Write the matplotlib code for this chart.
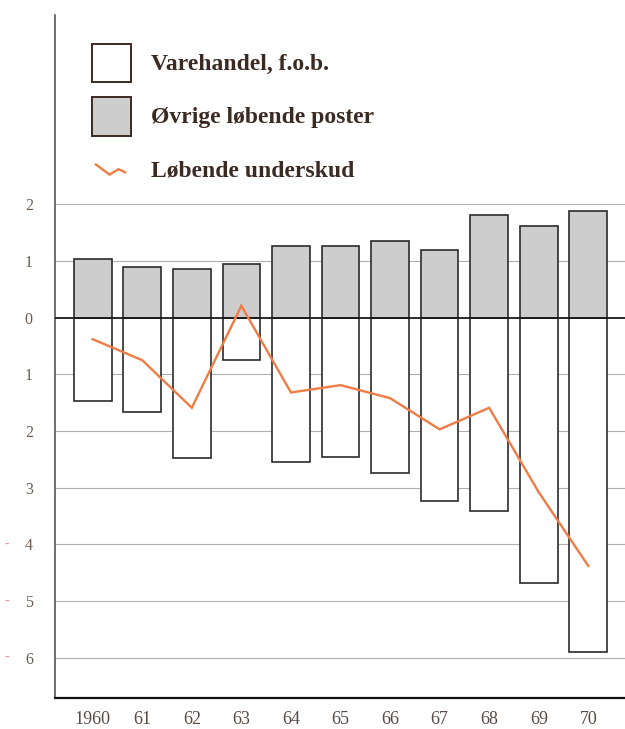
import matplotlib
matplotlib.use("Agg")
import matplotlib.pyplot as plt
from matplotlib.patches import Patch
from matplotlib.lines import Line2D
from matplotlib.legend_handler import HandlerLine2D
import matplotlib.transforms as mtransforms
import numpy as np

# ---- data (billion kr.) ----
years = [1960, 1961, 1962, 1963, 1964, 1965, 1966, 1967, 1968, 1969, 1970]
year_labels = ["1960", "61", "62", "63", "64", "65", "66", "67", "68", "69", "70"]
varehandel = [-1.47, -1.67, -2.47, -0.75, -2.54, -2.46, -2.74, -3.23, -3.41, -4.68, -5.90]
ovrige = [1.04, 0.90, 0.86, 0.94, 1.26, 1.27, 1.35, 1.20, 1.82, 1.61, 1.88]
underskud = [-0.38, -0.75, -1.59, 0.21, -1.32, -1.19, -1.42, -1.97, -1.59, -3.08, -4.38]
ytick_vals = [2, 1, 0, -1, -2, -3, -4, -5, -6]
ytick_labels = ["2", "1", "0", "1", "2", "3", "4", "5", "6"]
legend_labels = ["Varehandel, f.o.b.", "Øvrige løbende poster", "Løbende underskud"]

gray_fill = "#cdcdcd"
edge = "#2b2b2b"
orange = "#f07c45"
text_dark = "#3b2a22"
tick_col = "#6a5c55"

fig = plt.figure(figsize=(6.25, 7.29), dpi=100)
ax = fig.add_axes([55 / 625, 1 - 698 / 729, 1 - 55 / 625, 683 / 729])

x = np.array(years)
w = 0.76
ax.bar(x, varehandel, width=w, color="white", edgecolor=edge, linewidth=1.2, zorder=3)
ax.bar(x, ovrige, width=w, color=gray_fill, edgecolor=edge, linewidth=1.2, zorder=3)
ax.plot(x, underskud, color=orange, linewidth=1.7, zorder=5, solid_joinstyle="miter")

# grid lines
for v in ytick_vals:
    if v == 0:
        ax.axhline(0, color="#1a1a1a", linewidth=1.3, zorder=4)
    else:
        ax.axhline(v, color="#b0b0b0", linewidth=0.8, zorder=1)

ax.set_xlim(1959.24, 1970.74)
ax.set_ylim(-6.71, 5.34)

ax.set_yticks(ytick_vals)
ax.set_yticklabels(ytick_labels, fontfamily="Liberation Serif", fontsize=11.5, color=tick_col)
ax.set_xticks(years)
ax.set_xticklabels(year_labels, fontfamily="Liberation Serif", fontsize=13, color="#574a44")
ax.tick_params(axis="y", length=0, pad=16)
ax.tick_params(axis="x", length=0, pad=9)

for s in ["top", "right"]:
    ax.spines[s].set_visible(False)
ax.spines["left"].set_color("#555555")
ax.spines["left"].set_linewidth(1.2)
ax.spines["bottom"].set_color("#111111")
ax.spines["bottom"].set_linewidth(1.6)

# faint minus marks before lower labels
trans = mtransforms.blended_transform_factory(ax.transAxes, ax.transData)
for v in [-4, -5, -6]:
    ax.text(-0.085, v, "-", transform=trans, ha="center", va="center",
            fontsize=10, color="#e09a8a", fontfamily="Liberation Serif")


class ZigzagHandler(HandlerLine2D):
    def create_artists(self, legend, orig_handle, xdescent, ydescent, width, height, fontsize, trans):
        xs = np.array([0.1, 0.45, 0.68, 0.85]) * width - xdescent
        ys = np.array([0.62, 0.36, 0.50, 0.42]) * height - ydescent
        line = Line2D(xs, ys, color=orig_handle.get_color(), linewidth=1.7)
        line.set_transform(trans)
        return [line]


handles = [
    Patch(facecolor="white", edgecolor="#3a2a22", linewidth=1.4),
    Patch(facecolor=gray_fill, edgecolor="#3a2a22", linewidth=1.4),
    Line2D([0], [0], color=orange, linewidth=1.7),
]
fs = 17
leg = ax.legend(handles, legend_labels, loc="upper left",
                bbox_to_anchor=(92 / 625, 1 - 43.5 / 729), bbox_transform=fig.transFigure,
                frameon=False, borderpad=0, borderaxespad=0,
                handlelength=1.65, handleheight=2.16, handletextpad=0.86, labelspacing=0.6,
                prop={"family": "Liberation Serif", "weight": "bold", "size": fs},
                handler_map={Line2D: ZigzagHandler()})
for t in leg.get_texts():
    t.set_color(text_dark)

fig.savefig("out.png", dpi=100)
